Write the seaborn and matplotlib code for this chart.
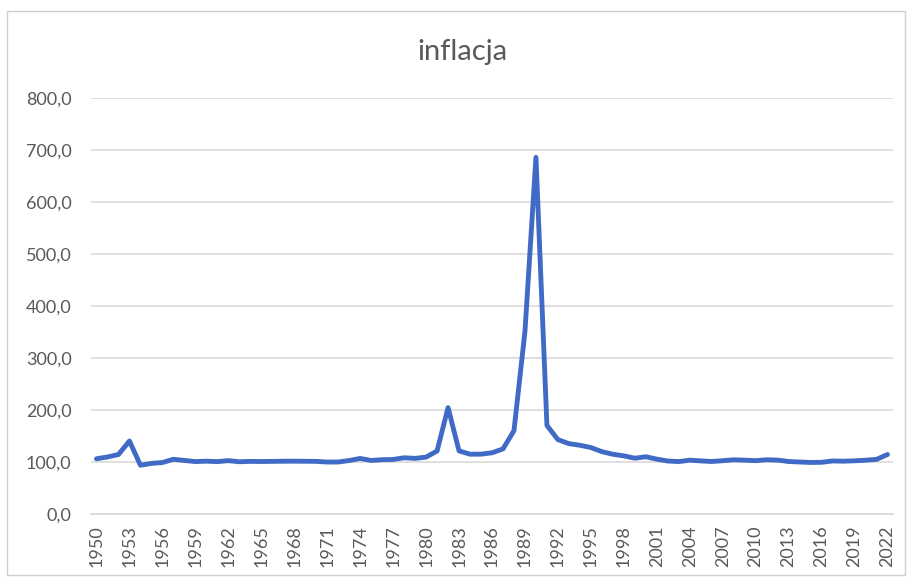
import matplotlib
matplotlib.use("Agg")
import matplotlib.pyplot as plt
import seaborn as sns
import pandas as pd
from matplotlib.patches import Rectangle
from matplotlib.ticker import FuncFormatter

# CPI, previous year = 100
years = list(range(1950, 2023))
inflacja = [
    106.2, 109.7, 114.4, 140.4, 93.8, 97.3, 99.0, 105.2, 103.0, 100.8,
    101.6, 100.7, 102.6, 100.5, 101.2, 100.9, 101.2, 101.5, 101.6, 101.4,
    101.2, 99.9, 100.0, 102.8, 106.8, 103.0, 104.4, 104.9, 108.1, 107.0,
    109.4, 121.2, 204.5, 121.4, 115.0, 115.1, 117.7, 125.2, 160.2, 351.1,
    685.8, 170.3, 143.0, 135.3, 132.2, 127.8, 119.9, 114.9, 111.8, 107.3,
    110.1, 105.5, 101.9, 100.8, 103.5, 102.1, 101.0, 102.5, 104.2, 103.5,
    102.6, 104.3, 103.7, 100.9, 100.0, 99.1, 99.4, 102.0, 101.6, 102.3,
    103.4, 105.1, 114.4,
]
y_ticks = [0, 100, 200, 300, 400, 500, 600, 700, 800]
x_ticks = years[::3]

df = pd.DataFrame({"rok": years, "inflacja": inflacja})

sns.set_theme(style="white")
plt.rcParams["font.family"] = ["Lato", "DejaVu Sans"]

text_col = "#595959"
fig = plt.figure(figsize=(9.07, 5.79), dpi=100)
ax = fig.add_axes([91 / 907, 1 - 514 / 579, (893 - 91) / 907, (514 - 98) / 579])

sns.lineplot(data=df, x="rok", y="inflacja", ax=ax, color="#3F6BC6", linewidth=3.5)

ax.set_xlim(1949.5, 2022.5)
ax.set_ylim(0, 800)
ax.set_yticks(y_ticks)
ax.yaxis.set_major_formatter(FuncFormatter(lambda v, p: f"{v:.1f}".replace(".", ",")))
ax.set_xticks(x_ticks)
ax.set_xticklabels([str(y) for y in x_ticks], rotation=90)
ax.grid(axis="y", color="#D9D9D9", linewidth=1.2)
ax.set_axisbelow(True)
for s in ["top", "right", "left"]:
    ax.spines[s].set_visible(False)
ax.spines["bottom"].set_color("#D9D9D9")
ax.spines["bottom"].set_linewidth(1.2)
ax.tick_params(axis="both", length=0, labelsize=13, colors=text_col)
ax.tick_params(axis="y", pad=14)
ax.tick_params(axis="x", pad=8)
ax.set_xlabel("")
ax.set_ylabel("")

fig.text(462 / 907, 1 - 52 / 579, "inflacja", ha="center", va="center",
         fontsize=21, color=text_col)

fig.patches.append(Rectangle((7 / 907, 4 / 579), (905 - 7) / 907, (568 - 4) / 579,
                             transform=fig.transFigure, fill=False,
                             edgecolor="#D0D0D0", linewidth=1.0))

fig.savefig("out.png", dpi=100)
